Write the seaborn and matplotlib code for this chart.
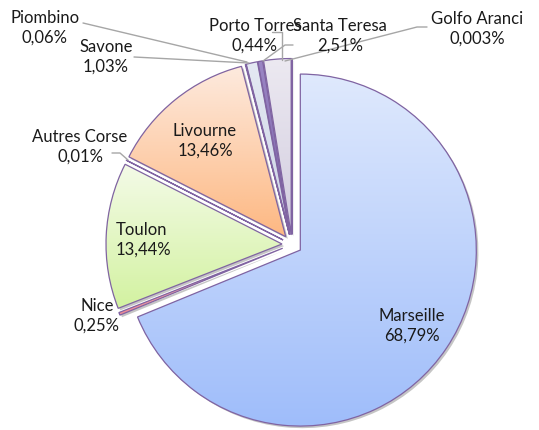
import numpy as np
import matplotlib
matplotlib.use("Agg")
import matplotlib.pyplot as plt
import matplotlib.patheffects as pe
from matplotlib.patches import Wedge
import seaborn as sns

# data
ports = ["Marseille", "Nice", "Toulon", "Autres Corse", "Livourne",
         "Piombino", "Savone", "Porto Torres", "Santa Teresa", "Golfo Aranci"]
shares = [68.79, 0.25, 13.44, 0.01, 13.46, 0.06, 1.03, 0.44, 2.51, 0.003]
share_text = ["68,79%", "0,25%", "13,44%", "0,01%", "13,46%",
              "0,06%", "1,03%", "0,44%", "2,51%", "0,003%"]

# gradient colours (top, bottom) per slice
grads = [("#dfe9fd", "#9fbdfa"), ("#f9c5c9", "#f08a95"), ("#f4fbe8", "#d3f2a1"),
         ("#d9d2e9", "#b4a7d6"), ("#fdeade", "#fdb882"), ("#e2e2e2", "#c0c0c0"),
         ("#e4e9f3", "#cbd3e4"), ("#9b86c4", "#7a62aa"), ("#ece9f1", "#d2cddf"),
         ("#dbe5f5", "#c5d4ee")]

# label positions in pixels (x, y from top)
label_pos = {"Marseille": (412, 326, "center"), "Nice": (97, 316, "center"),
             "Toulon": (116, 240, "left"), "Autres Corse": (80, 147, "center"),
             "Livourne": (205, 141, "center"), "Piombino": (45, 28, "center"),
             "Savone": (106, 57, "center"), "Porto Torres": (255, 36, "center"),
             "Santa Teresa": (340, 36, "center"), "Golfo Aranci": (477, 29, "center")}
leaders = {"Autres Corse": [(112, 153), (120, 153), (128, 160)],
           "Savone": [(134, 57), (249, 63)],
           "Piombino": [(83, 23), (247, 62)],
           "Porto Torres": [(293, 45), (285, 45), (263, 61)],
           "Santa Teresa": [(272, 32), (282, 32), (282, 60)],
           "Golfo Aranci": [(427, 27), (417, 27), (285, 61)]}

W, H = 539, 430
sns.set_style("white")
plt.rcParams['font.family'] = ['Lato', 'DejaVu Sans']

fig = plt.figure(figsize=(W / 100, H / 100), dpi=100)
ax = fig.add_axes([0, 0, 1, 1])

center = (292, H - 244.5)
radius = 176
wedges, _ = ax.pie(shares, startangle=90, counterclock=False, center=center,
                   radius=radius, explode=[10] * len(shares),
                   wedgeprops=dict(linewidth=0, edgecolor="none"))

grad = np.linspace(0, 1, 128).reshape(-1, 1)
for w, (c0, c1) in zip(wedges, grads):
    w.set_facecolor(c1)
    w.set_path_effects([pe.SimplePatchShadow(offset=(1.5, -1.5), shadow_rgbFace="#7f7f7f",
                                             alpha=0.45), pe.Normal()])
    bb = w.get_path().get_extents()
    cmap = sns.blend_palette([c0, c1], n_colors=128, as_cmap=True)
    im = ax.imshow(grad, cmap=cmap, aspect="auto", origin="upper",
                   extent=(bb.x0, bb.x1, bb.y0, bb.y1), zorder=2)
    im.set_clip_path(w)
    ax.add_patch(Wedge(w.center, w.r, w.theta1, w.theta2, fill=False,
                       edgecolor="#8064a2", linewidth=0.9, zorder=3))

for name, pct in zip(ports, share_text):
    x, y, ha = label_pos[name]
    ax.text(x, H - y, f"{name}\n{pct}", ha=ha, va="center", fontsize=12,
            color="#1a1a1a", linespacing=1.3, zorder=5)

for name, pts in leaders.items():
    xs = [p[0] for p in pts]
    ys = [H - p[1] for p in pts]
    ax.plot(xs, ys, color="#a6a6a6", linewidth=1, zorder=4)

ax.set_xlim(0, W)
ax.set_ylim(0, H)
ax.set_aspect("equal")
ax.axis("off")
fig.savefig("out.png", dpi=100)
